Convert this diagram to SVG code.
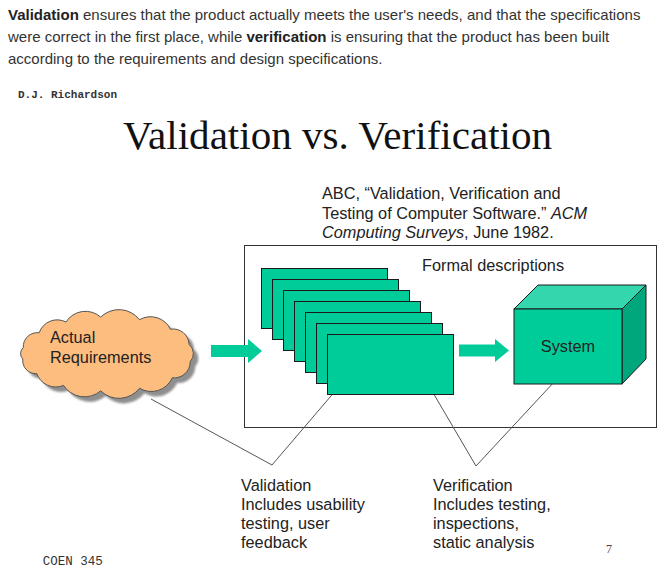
<svg xmlns="http://www.w3.org/2000/svg" width="665" height="572" viewBox="0 0 665 572">
<defs>
<style>
.hdr{font-family:"Liberation Sans",Arial,sans-serif;font-size:15px;fill:#333}
.b{font-weight:bold;fill:#222}
.sans{font-family:"Liberation Sans",Arial,sans-serif;font-size:16.3px;fill:#222}
.mono{font-family:"Liberation Mono","Courier New",monospace;fill:#333}
.page{fill:#00CC99;stroke:#1a1a1a;stroke-width:1}
.arrow{fill:#00CC99;stroke:none}
.conn{fill:none;stroke:#555;stroke-width:1}
</style>
<filter id="blur" x="-10%" y="-10%" width="120%" height="120%"><feGaussianBlur stdDeviation="1.2"/></filter>
</defs>
<rect width="665" height="572" fill="#fff"/>

<g id="header">
<text class="hdr" x="8" y="20"><tspan class="b">Validation</tspan> ensures that the product actually meets the user's needs, and that the specifications</text>
<text class="hdr" x="8" y="42">were correct in the first place, while <tspan class="b">verification</tspan> is ensuring that the product has been built</text>
<text class="hdr" x="8" y="64">according to the requirements and design specifications.</text>
</g>

<text class="mono" x="18" y="98" font-size="11" font-weight="bold">D.J. Richardson</text>
<text x="123" y="149" font-family="'Liberation Serif','Times New Roman',serif" font-size="40" fill="#111" textLength="429" lengthAdjust="spacingAndGlyphs">Validation vs. Verification</text>

<g id="citation" class="sans">
<text x="322" y="199">ABC, “Validation, Verification and</text>
<text x="322" y="218.5">Testing of Computer Software.” <tspan font-style="italic">ACM</tspan></text>
<text x="322" y="238"><tspan font-style="italic">Computing Surveys</tspan>, June 1982.</text>
</g>

<g id="frame">
<rect x="244.5" y="245.5" width="412" height="182" fill="none" stroke="#333" stroke-width="1"/>
<text class="sans" x="422" y="271">Formal descriptions</text>
</g>

<g id="connectors">
<polyline class="conn" points="151,399 272,465 360,362"/>
<polyline class="conn" points="415,362 476,466 568,367"/>
<polygon class="arrow" points="211,345 248,345 248,339 262,351 248,363 248,357 211,357"/>
<polygon class="arrow" points="459,344.5 495,344.5 495,339 509,350.5 495,362 495,356.5 459,356.5"/>
</g>

<g id="requirements">
<path transform="translate(5,5)" filter="url(#blur)" fill="#8f8f8f" d="M23.3,347.6 A14,14 0 0 1 39.2,332.8 A19,19 0 0 1 66,322 A23,23 0 0 1 100.7,317.1 A26,26 0 0 1 139.5,319.7 A22,22 0 0 1 170.4,329.2 A16,16 0 0 1 189.1,344.4 A12,12 0 0 1 190.2,361.7 A16,16 0 0 1 172.3,377.8 A23,23 0 0 1 139.5,388.3 A26,26 0 0 1 100.7,390.9 A25,25 0 0 1 63.5,385.4 A20,20 0 0 1 36.8,373.6 A13,13 0 0 1 22.8,359.1 A8,8 0 0 1 23.3,347.6 Z"/>
<path fill="#FDBD7F" stroke="#555" stroke-width="1" d="M23.3,347.6 A14,14 0 0 1 39.2,332.8 A19,19 0 0 1 66,322 A23,23 0 0 1 100.7,317.1 A26,26 0 0 1 139.5,319.7 A22,22 0 0 1 170.4,329.2 A16,16 0 0 1 189.1,344.4 A12,12 0 0 1 190.2,361.7 A16,16 0 0 1 172.3,377.8 A23,23 0 0 1 139.5,388.3 A26,26 0 0 1 100.7,390.9 A25,25 0 0 1 63.5,385.4 A20,20 0 0 1 36.8,373.6 A13,13 0 0 1 22.8,359.1 A8,8 0 0 1 23.3,347.6 Z"/>
<text class="sans" x="50" y="343">Actual</text>
<text class="sans" x="50" y="363">Requirements</text>
</g>

<g id="descriptions">
<rect class="page" x="261.5" y="268.5" width="126" height="60"/>
<rect class="page" x="272.5" y="279.5" width="126" height="60"/>
<rect class="page" x="283.5" y="290.5" width="126" height="60"/>
<rect class="page" x="294.5" y="301.5" width="126" height="60"/>
<rect class="page" x="305.5" y="312.5" width="126" height="60"/>
<rect class="page" x="316.5" y="323.5" width="126" height="60"/>
<rect class="page" x="327.5" y="334.5" width="126" height="60"/>
</g>

<g id="system">
<polygon points="514,309 538,285 646,285 622,309" fill="#33D6AD" stroke="#1a1a1a" stroke-width="1"/>
<polygon points="622,309 646,285 646,359 622,384" fill="#00A67C" stroke="#1a1a1a" stroke-width="1"/>
<rect x="514" y="309" width="108" height="75" fill="#00CC99" stroke="#1a1a1a" stroke-width="1"/>
<text class="sans" x="568" y="352" text-anchor="middle">System</text>
</g>

<g id="validation" class="sans">
<text x="241" y="491">Validation</text>
<text x="241" y="510">Includes usability</text>
<text x="241" y="529">testing, user</text>
<text x="241" y="548">feedback</text>
</g>

<g id="verification" class="sans">
<text x="433" y="491">Verification</text>
<text x="433" y="510">Includes testing,</text>
<text x="433" y="529">inspections,</text>
<text x="433" y="548">static analysis</text>
</g>

<text x="606" y="553" font-family="'Liberation Serif','Times New Roman',serif" font-size="12" fill="#444">7</text>
<text class="mono" x="42.7" y="565" font-size="12.5">COEN 345</text>
</svg>
